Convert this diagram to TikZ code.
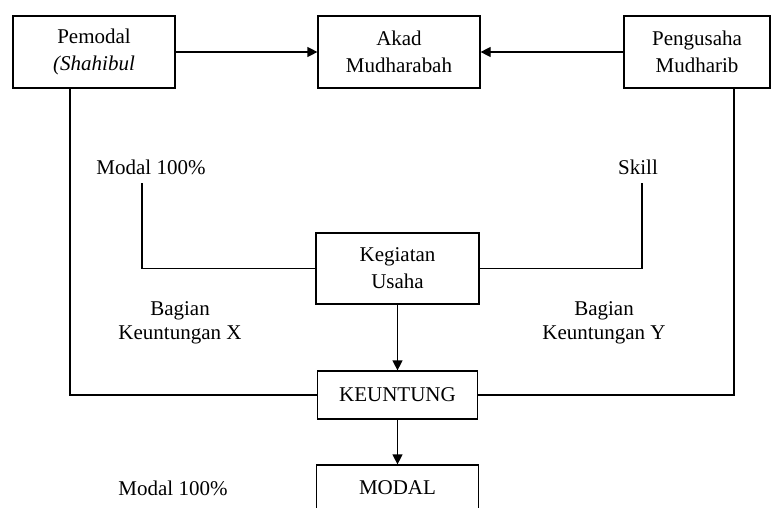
\documentclass[tikz,border=0pt]{standalone}
\usepackage{fontspec}
\setmainfont{Liberation Serif}
\usetikzlibrary{arrows.meta}
\begin{document}
\begin{tikzpicture}[x=1pt,y=-1pt,
 box/.style={draw, line width=1.2pt, align=center, font=\fontsize{21}{27}\selectfont, inner sep=0pt},
 lbl/.style={align=center, font=\fontsize{21}{24}\selectfont, inner sep=0pt},
 line/.style={line width=1.2pt},
 arr/.style={line width=1.2pt, -{Triangle[length=10pt,width=10pt]}}]
\useasboundingbox (0,0) rectangle (771,508);
\begin{scope}
\clip (0,0) rectangle (771,508);
\node[box, minimum width=162pt, minimum height=72pt] (pem) at (94,52) {Pemodal\\\textit{(Shahibul}};
\node[box, minimum width=162pt, minimum height=72pt] (akad) at (399,52) {Akad\\Mudharabah};
\node[box, minimum width=146pt, minimum height=72pt] (peng) at (697,52) {Pengusaha\\Mudharib};
\node[box, minimum width=163pt, minimum height=71pt] (keg) at (397.5,268.5) {Kegiatan\\Usaha};
\node[box, minimum width=160pt, minimum height=48pt] (keu) at (397.5,395) {KEUNTUNG};
\node[box, minimum width=162pt, minimum height=46pt] (modal) at (397.5,488) {MODAL};

\node[lbl] (m1) at (151,167) {Modal 100\%};
\node[lbl] (skill) at (638,167) {Skill};
\node[lbl] (bx) at (180,323) {Bagian\\Keuntungan X};
\node[lbl] (by) at (604,323) {Bagian\\Keuntungan Y};
\node[lbl] (m2) at (173,488) {Modal 100\%};

\coordinate (pl) at (70,0);
\coordinate (pr) at (734,0);
\coordinate (mtop) at (142,183);
\coordinate (stop) at (642,183);

\draw[arr] (pem.east) -- (akad.west);
\draw[arr] (peng.west) -- (akad.east);
\draw[line] (pem.south -| pl) |- (keu.west);
\draw[line] (peng.south -| pr) |- (keu.east);
\draw[line] (mtop) |- (keg.west);
\draw[line] (stop) |- (keg.east);
\draw[arr] (keg.south) -- (keu.north);
\draw[arr] (keu.south) -- (modal.north);
\end{scope}
\end{tikzpicture}
\end{document}
